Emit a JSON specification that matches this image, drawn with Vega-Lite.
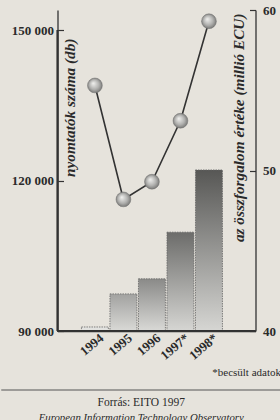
{
  "$schema": "https://vega.github.io/schema/vega-lite/v6.json",
  "autosize": "pad",
  "padding": {"left": 0, "top": 4, "right": 0, "bottom": 0},
  "background": "#e6e3dc",
  "config": {
    "view": {"stroke": null},
    "font": "Liberation Serif",
    "axis": {"domainColor": "#333333", "domainWidth": 1.3, "tickColor": "#333333", "tickWidth": 1.2, "labelColor": "#2a2a2a", "titleColor": "#2a2a2a", "labelFont": "Liberation Serif", "titleFont": "Liberation Serif", "grid": false}
  },
  "spacing": 12,
  "center": true,
  "vconcat": [
    {
      "width": 198,
      "height": 321,
      "data": {"values": [
        {"year": "1994", "printers": 90800, "turnover": 55.3},
        {"year": "1995", "printers": 97400, "turnover": 48.2},
        {"year": "1996", "printers": 100400, "turnover": 49.3},
        {"year": "1997*", "printers": 109700, "turnover": 53.1},
        {"year": "1998*", "printers": 122100, "turnover": 59.3}
      ]},
      "layer": [
        {
          "layer": [
            {
              "mark": {"type": "bar", "stroke": "#666666", "strokeWidth": 0.8, "strokeDash": [1.5, 1]},
              "encoding": {
                "x": {
                  "field": "year", "type": "ordinal", "sort": null,
                  "scale": {"paddingInner": 0.055, "paddingOuter": 1.18, "align": 0.42},
                  "axis": {
                    "domain": true, "zindex": 1,
                    "title": "*becsült adatok", "titleFontSize": 11, "titleFontWeight": "normal",
                    "titleAnchor": "end", "titleAlign": "right", "titleX": 223, "titleY": 41, "titleBaseline": "middle",
                    "labelAngle": -40, "labelAlign": "right", "labelBaseline": "middle", "labelFontSize": 13, "labelFontWeight": "bold",
                    "labelOffset": 7, "ticks": false, "labelPadding": 5
                  }
                },
                "y": {
                  "field": "printers", "type": "quantitative",
                  "scale": {"domain": [90000, 153987], "nice": false, "zero": false},
                  "axis": {
                    "orient": "left", "values": [90000, 120000, 150000], "domain": true, "zindex": 1,
                    "labelExpr": "replace(format(datum.value, ','), ',', ' ')",
                    "labelFontSize": 13, "labelFontWeight": "bold",
                    "tickSize": -6, "labelPadding": 10, "minExtent": 56, "maxExtent": 56,
                    "title": "nyomtatók száma (db)", "titleFontSize": 15.3, "titleFontStyle": "italic", "titleFontWeight": "bold",
                    "titleAngle": -90, "titleAlign": "right", "titleBaseline": "middle", "titleX": 12, "titleY": 28
                  }
                },
                "y2": {"datum": 90000},
                "fill": {
                  "condition": [
                    {"test": "datum.year === '1994'", "value": "#e2e2df"},
                    {"test": "datum.year === '1995'", "value": {"gradient": "linear", "x1": 0, "y1": 0, "x2": 0, "y2": 1, "stops": [{"offset": 0, "color": "#a2a2a0"}, {"offset": 1, "color": "#d9d9d6"}]}},
                    {"test": "datum.year === '1996'", "value": {"gradient": "linear", "x1": 0, "y1": 0, "x2": 0, "y2": 1, "stops": [{"offset": 0, "color": "#8a8a88"}, {"offset": 1, "color": "#d9d9d6"}]}},
                    {"test": "datum.year === '1997*'", "value": {"gradient": "linear", "x1": 0, "y1": 0, "x2": 0, "y2": 1, "stops": [{"offset": 0, "color": "#6c6c6a"}, {"offset": 1, "color": "#d6d6d3"}]}}
                  ],
                  "value": {"gradient": "linear", "x1": 0, "y1": 0, "x2": 0, "y2": 1, "stops": [{"offset": 0, "color": "#575755"}, {"offset": 1, "color": "#d6d6d3"}]}
                }
              }
            },
            {
              "mark": {"type": "rule", "color": "#333333", "strokeWidth": 1.3},
              "encoding": {"y": {"datum": 90000, "type": "quantitative"}}
            },
            {
              "mark": {"type": "rule", "color": "#333333", "strokeWidth": 1.3},
              "encoding": {"x": {"value": 0}, "y": {"datum": 90000, "type": "quantitative"}, "y2": {"datum": 150000}}
            }
          ]
        },
        {
          "encoding": {
            "x": {"field": "year", "type": "ordinal", "sort": null},
            "y": {
              "field": "turnover", "type": "quantitative",
              "scale": {"domain": [40, 60], "nice": false, "zero": false},
              "axis": {
                "orient": "right", "values": [40, 50, 60], "zindex": 1,
                "labelFontSize": 13, "labelFontWeight": "bold",
                "tickSize": -6, "labelPadding": 13, "minExtent": 26, "maxExtent": 26,
                "title": "az összforgalom értéke (millió ECU)", "titleFontSize": 15.3, "titleFontStyle": "italic", "titleFontWeight": "bold",
                "titleAngle": -90, "titleAlign": "right", "titleBaseline": "middle", "titleX": -17, "titleY": 3
              }
            }
          },
          "layer": [
            {"mark": {"type": "line", "color": "#333333", "strokeWidth": 1.6}},
            {"mark": {"type": "point", "filled": true, "size": 220, "opacity": 1, "stroke": "#707070", "strokeWidth": 0.5,
              "fill": {"gradient": "radial", "x1": 0.38, "y1": 0.35, "r1": 0, "x2": 0.5, "y2": 0.5, "r2": 0.55, "stops": [{"offset": 0, "color": "#f2f2f0"}, {"offset": 0.6, "color": "#b0b0ae"}, {"offset": 1, "color": "#6e6e6c"}]}}}
          ]
        }
      ],
      "resolve": {"scale": {"y": "independent"}}
    },
    {
      "width": 336,
      "height": 1,
      "data": {"values": [{"source": "EITO 1997"}]},
      "mark": {"type": "rule", "color": "#555555", "strokeWidth": 1},
      "encoding": {
        "y": {"datum": 0, "type": "quantitative", "scale": {"domain": [0, 1]}, "axis": null}
      },
      "title": {
        "text": "Forrás: EITO 1997",
        "subtitle": "European Information Technology Observatory",
        "orient": "bottom", "anchor": "middle", "offset": 6, "dx": -28,
        "font": "Liberation Serif", "fontSize": 11.5, "fontWeight": "normal", "color": "#2a2a2a",
        "subtitleFont": "Liberation Serif", "subtitleFontSize": 10.8, "subtitleFontStyle": "italic", "subtitleColor": "#2a2a2a", "subtitlePadding": 4
      }
    }
  ]
}
